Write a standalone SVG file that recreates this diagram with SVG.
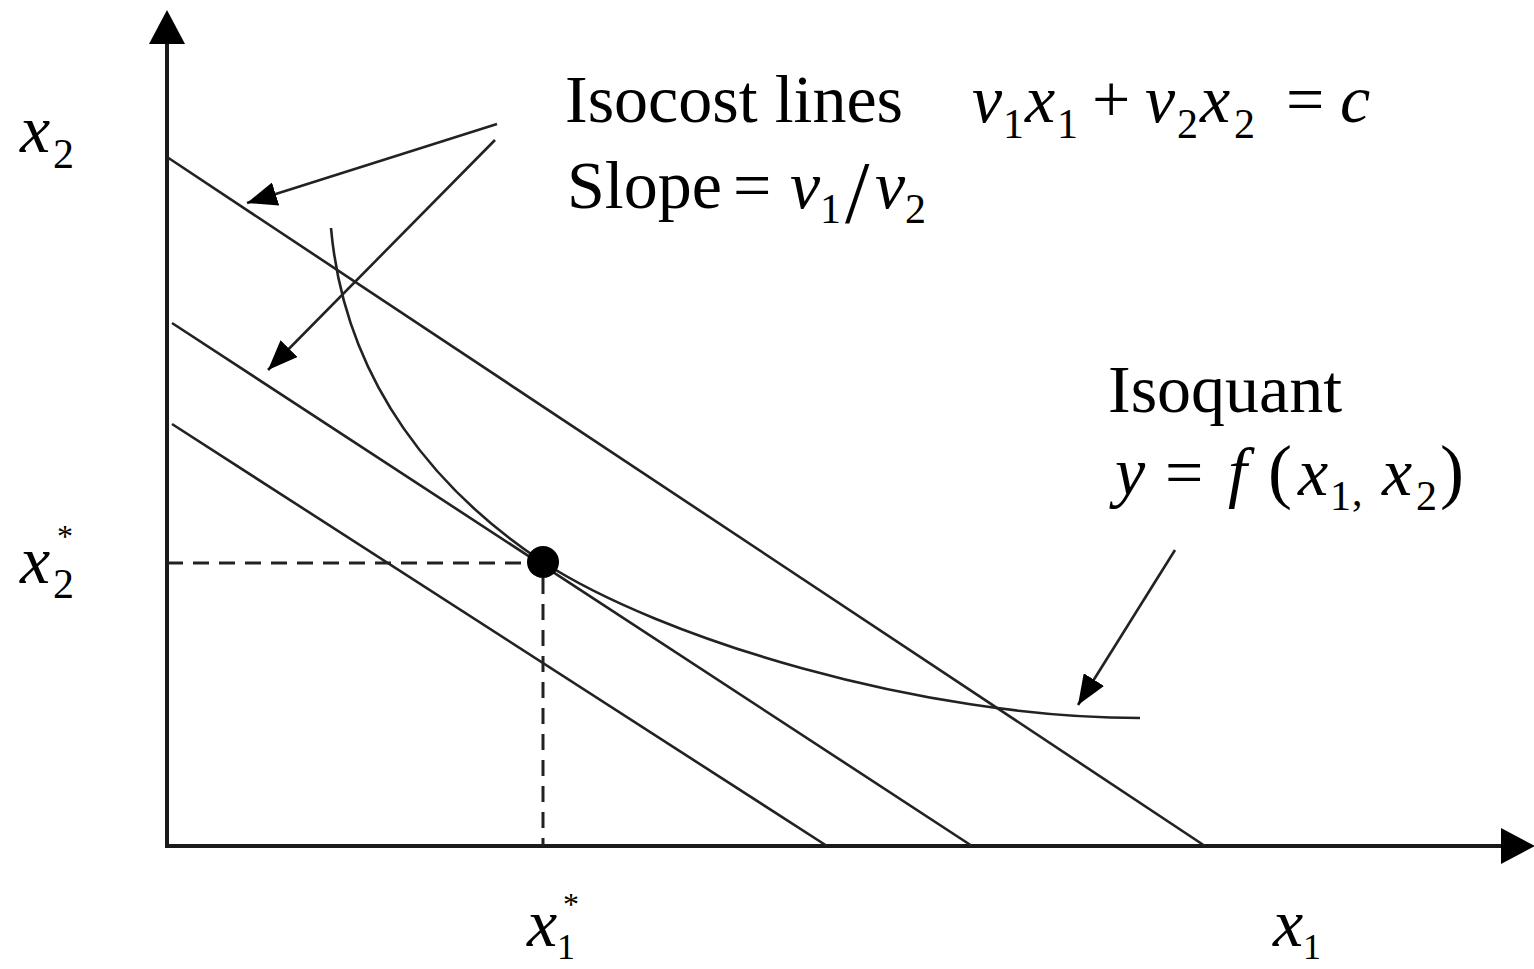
<svg xmlns="http://www.w3.org/2000/svg" width="1534" height="969" viewBox="0 0 1534 969">
<style>
text{font-family:"Liberation Serif","Times New Roman",serif;fill:#000}
.t{font-size:68px}
.it{font-size:68px;font-style:italic}
.sub{font-size:42px}
.subb{font-size:36px}
.ast{font-size:32px}
.axis{stroke:#1a1a1a;stroke-width:4;fill:none}
.iso{stroke:#222;stroke-width:2.6;fill:none}
.dash{stroke:#222;stroke-width:3;fill:none;stroke-dasharray:16 10}
.conn{stroke:#222;stroke-width:2.6;fill:none;marker-end:url(#ah)}
</style>
<defs>
<marker id="ah" viewBox="0 0 30 24" refX="30" refY="12" markerWidth="30" markerHeight="24" markerUnits="userSpaceOnUse" orient="auto">
<path d="M0,0 L30,12 L0,24 z" fill="#000"/>
</marker>
<marker id="axh" viewBox="0 0 34 36" refX="2" refY="18" markerWidth="34" markerHeight="36" markerUnits="userSpaceOnUse" orient="auto">
<path d="M0,0 L34,18 L0,36 z" fill="#000"/>
</marker>
</defs>
<rect width="1534" height="969" fill="#fff"/>
<g id="axes">
<path class="axis" d="M167,847 L167,42" marker-end="url(#axh)"/>
<path class="axis" d="M165,846 L1503,846" marker-end="url(#axh)"/>
</g>
<g id="isocost-lines">
<path class="iso" d="M167,157 L1205,846"/>
<path class="iso" d="M172,323 L972,846"/>
<path class="iso" d="M172,424 L827,846"/>
</g>
<g id="isoquant">
<path class="iso" d="M331,228 C345,385 440,494 543,562 C660,638 920,718 1140,718"/>
</g>
<g id="guides">
<path class="dash" d="M167,563 L528,563"/>
<path class="dash" d="M543,578 L543,846"/>
</g>
<g id="optimum">
<circle cx="543" cy="562" r="16" fill="#000"/>
</g>
<g id="connectors">
<path class="conn" d="M497,124 L247,203"/>
<path class="conn" d="M495,140 L268,370"/>
<path class="conn" d="M1175,550 L1078,705"/>
</g>
<g id="label-isocost">
<text class="t" x="565" y="122">Isocost lines</text>
<text class="t" x="567" y="208">Slope</text>
<text class="t" x="733" y="208">=</text>
<text class="it" x="790" y="208">v</text><text class="sub" x="820" y="223">1</text>
<text x="845" y="222" style="font-size:88px">/</text>
<text class="it" x="875" y="208">v</text><text class="sub" x="905" y="223">2</text>
</g>
<g id="label-budget">
<text class="it" x="972" y="122">v</text><text class="sub" x="1003" y="138">1</text>
<text class="it" x="1025" y="122">x</text><text class="sub" x="1057" y="138">1</text>
<text class="t" x="1092" y="122">+</text>
<text class="it" x="1145" y="122">v</text><text class="sub" x="1177" y="138">2</text>
<text class="it" x="1200" y="122">x</text><text class="sub" x="1234" y="138">2</text>
<text class="t" x="1286" y="122">=</text>
<text class="it" x="1340" y="122">c</text>
</g>
<g id="label-isoquant">
<text class="t" x="1108" y="412">Isoquant</text>
<text class="it" x="1115" y="495">y</text>
<text class="t" x="1165" y="495">=</text>
<text class="it" x="1228" y="495">f</text>
<text class="t" x="1268" y="495" style="font-size:72px">(</text>
<text class="it" x="1298" y="495">x</text><text class="sub" x="1330" y="510">1</text>
<text class="sub" x="1352" y="505">,</text>
<text class="it" x="1382" y="495">x</text><text class="sub" x="1416" y="510">2</text>
<text class="t" x="1440" y="495" style="font-size:72px">)</text>
</g>
<g id="axis-labels">
<text class="it" x="20" y="152">x</text><text class="sub" x="53" y="168">2</text>
<text class="it" x="20" y="583">x</text><text class="sub" x="53" y="598">2</text><text class="ast" x="57" y="547">*</text>
<text class="it" x="527" y="946">x</text><text class="subb" x="557" y="959">1</text><text class="ast" x="563" y="915">*</text>
<text class="it" x="1273" y="946">x</text><text class="subb" x="1303" y="959">1</text>
</g>
</svg>
